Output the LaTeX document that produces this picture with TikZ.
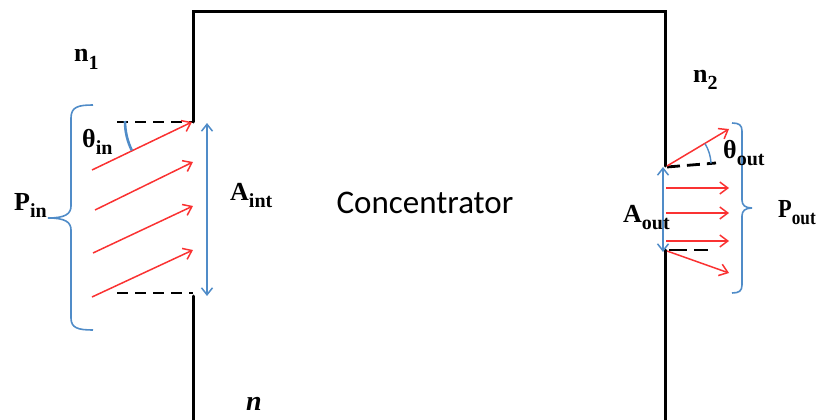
\documentclass[tikz,border=0pt]{standalone}
\usepackage{fontspec}
\setmainfont{Liberation Serif}
\newfontfamily\calib{Carlito}
\usetikzlibrary{arrows.meta}
\definecolor{arrred}{RGB}{250,50,50}
\definecolor{lblue}{RGB}{80,140,200}
\newcommand{\lbl}[2]{\bfseries #1\raisebox{-0.27em}{\fontsize{20}{20}\selectfont #2}}
\tikzset{
  wall/.style={line width=3pt, line cap=round},
  dashline/.style={line width=2.8pt, dash pattern=on 11pt off 7pt},
  ray/.style={arrred, line width=1.5pt, -{Straight Barb[length=8pt,width=12pt,line width=1.5pt]}},
  dim/.style={lblue, line width=1.5pt, {Straight Barb[length=7pt,width=11pt]}-{Straight Barb[length=7pt,width=11pt]}},
  brace/.style={lblue, line width=1.6pt},
  angarc/.style={lblue, line width=2.6pt},
  label/.style={font=\fontsize{26}{26}\selectfont, inner sep=0pt, anchor=base west}
}
\begin{document}
\begin{tikzpicture}[x=1pt,y=-1pt]
\useasboundingbox (0,0) rectangle (817,420);
% walls
\coordinate (tl) at (193,12);
\coordinate (tr) at (665,12);
\coordinate (lin1) at (193,122);
\coordinate (lin2) at (193,296);
\coordinate (rout1) at (665,166);
\coordinate (rout2) at (665,250);
\coordinate (lb) at (193,421);
\coordinate (rb) at (665,421);
\draw[wall] (lin1) -- (tl) -- (tr) -- (rout1);
\draw[wall] (lin2) -- (lb);
\draw[wall] (rout2) -- (rb);
% dashed lines
\coordinate (dl1) at (117,122);
\coordinate (dl2) at (117,293);
\coordinate (dl2e) at (193,293);
\draw[dashline] (dl1) -- (lin1);
\draw[dashline] (dl2) -- (dl2e);
\coordinate (dr1s) at (667,167);
\coordinate (dr1) at (716,163);
\coordinate (dr2s) at (669,250);
\coordinate (dr2) at (708,250);
\draw[dashline, dash pattern=on 13pt off 7pt] (dr1s) -- (dr1);
\draw[dashline, dash pattern=on 18pt off 7pt] (dr2s) -- (dr2);
% incoming rays
\coordinate (a1s) at (92,170); \coordinate (a1e) at (192,122);
\coordinate (a2s) at (95,210); \coordinate (a2e) at (193,162);
\coordinate (a3s) at (93,253); \coordinate (a3e) at (193,206);
\coordinate (a4s) at (92,297); \coordinate (a4e) at (193,250);
\draw[ray] (a1s) -- (a1e);
\draw[ray] (a2s) -- (a2e);
\draw[ray] (a3s) -- (a3e);
\draw[ray] (a4s) -- (a4e);
% outgoing rays
\coordinate (b1s) at (667,166); \coordinate (b1e) at (729,129);
\coordinate (b2s) at (666,188); \coordinate (b2e) at (729,188);
\coordinate (b3s) at (666,213); \coordinate (b3e) at (729,213);
\coordinate (b4s) at (666,241); \coordinate (b4e) at (729,241);
\coordinate (b5s) at (667,251); \coordinate (b5e) at (729,273);
\draw[ray] (b1s) -- (b1e);
\draw[ray] (b2s) -- (b2e);
\draw[ray] (b3s) -- (b3e);
\draw[ray] (b4s) -- (b4e);
\draw[ray] (b5s) -- (b5e);
% dimension arrows
\coordinate (ai1) at (207,123); \coordinate (ai2) at (207,296);
\draw[dim] (ai1) -- (ai2);
\coordinate (ao1) at (663,167); \coordinate (ao2) at (663,252);
\draw[dim] (ao1) -- (ao2);
% angle arcs
\draw[angarc] (125,121) .. controls (125,131.2) and (127.3,141.2) .. (131.8,150.4);
\draw[lblue, line width=1.4pt] (705,143.7) .. controls (708.9,150.3) and (710.5,155.6) .. (711,163.3);
% braces
\draw[brace] (93,105) .. controls (78,105) and (71,107) .. (71,118)
  -- (71,206) .. controls (71,214) and (65,218) .. (48,218)
  (71,230) .. controls (71,222) and (65,218) .. (48,218)
  (71,230) -- (71,318) .. controls (71,328) and (78,330) .. (93,330);
\draw[brace] (732,123) .. controls (739,123) and (742,125) .. (742,131)
  -- (742,200) .. controls (742,205) and (745,208) .. (752,208)
  (742,216) .. controls (742,211) and (745,208) .. (752,208)
  (742,216) -- (742,285) .. controls (742,291) and (739,293) .. (732,293);
% labels
\node[label] (n1) at (74,62) {\lbl{n}{1}};
\node[label] (n2) at (693,82) {\lbl{n}{2}};
\node[label, font=\fontsize{28}{28}\selectfont] (n) at (246,410) {\bfseries\itshape n};
\node[label] (thin) at (82,147) {\lbl{θ}{in}};
\node[label] (pin) at (14,210) {\lbl{P}{in}};
\node[label] (aint) at (230,200) {\lbl{A}{int}};
\node[font=\calib\fontsize{33}{33}\selectfont, inner sep=0pt, anchor=base] (conc) at (425,213) {Concentrator};
\node[label] (aout) at (623,222) {\lbl{A}{out}};
\node[label] (thout) at (723,158) {\lbl{θ}{out}};
\node[label] (pout) at (778,217) {\scalebox{0.86}[1]{\lbl{P}{out}}};
\end{tikzpicture}
\end{document}
